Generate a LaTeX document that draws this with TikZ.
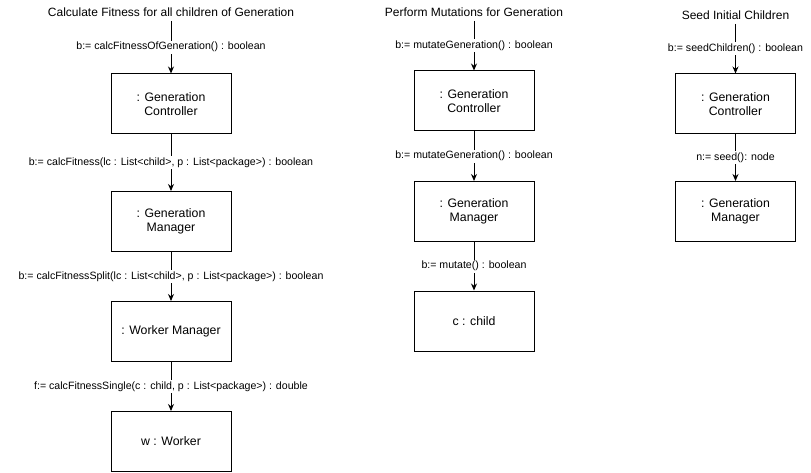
\documentclass[tikz,border=0pt]{standalone}
\usepackage{fontspec}
\setmainfont{Liberation Sans}
\usetikzlibrary{arrows.meta}

\begin{document}
\begin{tikzpicture}[
    x=1pt, y=-1pt,
    line width=1pt,
    obj/.style={draw, minimum width=120pt, minimum height=60pt, align=center, font=\fontsize{12.3}{14.5}\selectfont},
    caption/.style={inner sep=4pt, font=\fontsize{12}{14}\selectfont},
    msg/.style={fill=white, inner sep=1.5pt, font=\fontsize{10.6}{12}\selectfont},
    call/.style={-{Stealth[length=7pt,width=6pt]}},
]
\useasboundingbox (0,0) rectangle (811,473);

% fitness
\node[caption] (t1) at (171,12) {Calculate Fitness for all children of Generation};
\node[obj] (gc1) at (171,104) {: Generation\\Controller};
\node[obj] (gm1) at (171,221.5) {: Generation\\Manager};
\node[obj] (wm1) at (171,331.5) {: Worker Manager};
\node[obj] (w1) at (171,441.5) {w : Worker};

% mutations
\node[caption] (t2) at (474,12) {Perform Mutations for Generation};
\node[obj] (gc2) at (474,101) {: Generation\\Controller};
\node[obj] (gm2) at (474,211.5) {: Generation\\Manager};
\node[obj] (c2) at (474,321) {c : child};

% seeding
\node[caption] (t3) at (735.5,15) {Seed Initial Children};
\node[obj] (gc3) at (735.5,104) {: Generation\\Controller};
\node[obj] (gm3) at (735.5,211.5) {: Generation\\Manager};

\foreach \from/\to/\lbl in {
    t1/gc1/{b:= calcFitnessOfGeneration() : boolean},
    gc1/gm1/{b:= calcFitness(lc : List<child>, p : List<package>) : boolean},
    gm1/wm1/{b:= calcFitnessSplit(lc : List<child>, p : List<package>) : boolean},
    wm1/w1/{f:= calcFitnessSingle(c : child, p : List<package>) : double},
    t2/gc2/{b:= mutateGeneration() : boolean},
    gc2/gm2/{b:= mutateGeneration() : boolean},
    gm2/c2/{b:= mutate() : boolean},
    t3/gc3/{b:= seedChildren() : boolean},
    gc3/gm3/{n:= seed(): node}} {
    \draw[call] (\from) -- node[msg] {\lbl} (\to);
}
\end{tikzpicture}
\end{document}
